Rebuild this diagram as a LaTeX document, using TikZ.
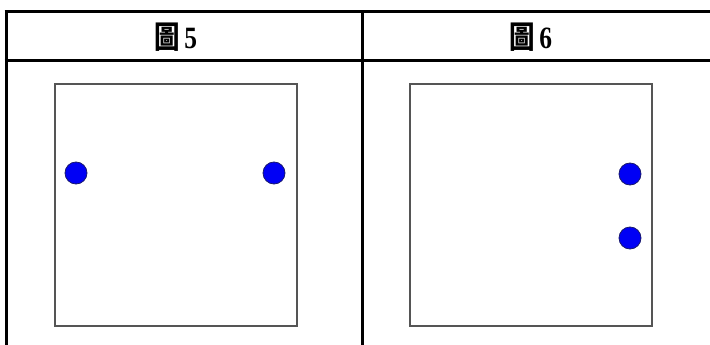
\documentclass[tikz,border=0pt]{standalone}
\usepackage{fontspec}
\usepackage{graphicx}
\newfontfamily\cjk{Noto Sans CJK TC}
\setmainfont{Liberation Serif}
\usetikzlibrary{positioning}
\definecolor{DotBlue}{RGB}{0,0,245}
\definecolor{DotEdge}{RGB}{25,25,110}
\definecolor{FrameGray}{RGB}{85,85,85}
\newcommand{\headtext}[1]{\scalebox{0.82}[1]{{\cjk\bfseries 圖}\,{\bfseries #1}}}
\tikzset{
  tabline/.style={line width=3pt,black},
  figbox/.style={draw=FrameGray,line width=1.2pt,minimum width=242pt,minimum height=242pt,inner sep=0pt},
  ball/.style={circle,draw=DotEdge,fill=DotBlue,line width=0.8pt,minimum size=22pt,inner sep=0pt},
  head/.style={font=\fontsize{31}{34}\selectfont,inner sep=0pt},
}

\begin{document}
\begin{tikzpicture}[x=1pt,y=-1pt]
    \useasboundingbox (0,0) rectangle (710,345);
    %% Table
    \draw[tabline] (4.5,12) -- (710,12);
    \draw[tabline] (4.5,61) -- (710,61);
    \draw[tabline] (6,10.5) -- (6,345);
    \draw[tabline] (362,10.5) -- (362,345);
    %% Headers
    \node[head] (h5) at (176,37) {\headtext{5}};
    \node[head] (h6) at (531,37) {\headtext{6}};
    %% Figures
    \node[figbox] (fig5) at (176,205) {};
    \node[figbox] (fig6) at (531,205) {};
    \node[ball] (a1) at (76,173)  {};
    \node[ball] (a2) at (274,173) {};
    \node[ball] (b1) at (630,174) {};
    \node[ball] (b2) at (630,238) {};
  \end{tikzpicture}
\end{document}
